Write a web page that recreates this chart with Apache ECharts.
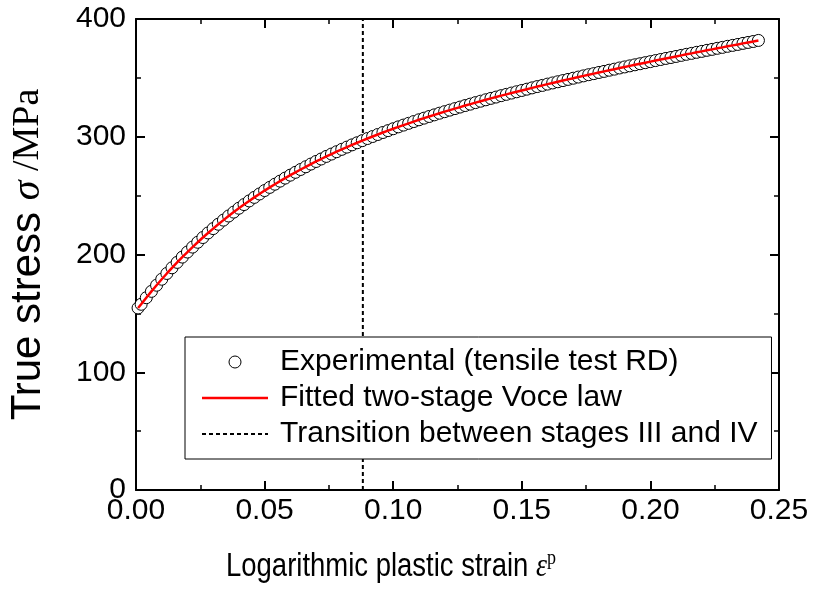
<!DOCTYPE html>
<html>
<head>
<meta charset="utf-8">
<script src="https://cdn.jsdelivr.net/npm/echarts@6/dist/echarts.min.js"></script>
<style>html,body{margin:0;padding:0;background:#fff}#c{width:813px;height:596px}</style>
</head>
<body>
<div id="c"></div>
<script>
// Logarithmic plastic strain
const strain = [0.0008,0.002,0.004,0.006,0.008,0.010,0.012,0.014,0.016,0.018,0.020,0.022,0.024,0.026,0.028,0.030,0.032,0.034,0.036,0.038,0.040,0.042,0.044,0.046,0.048,0.050,0.052,0.054,0.056,0.058,0.060,0.062,0.064,0.066,0.068,0.070,0.072,0.074,0.076,0.078,0.080,0.082,0.084,0.086,0.088,0.090,0.092,0.094,0.096,0.098,0.100,0.102,0.104,0.106,0.108,0.110,0.112,0.114,0.116,0.118,0.120,0.122,0.124,0.126,0.128,0.130,0.132,0.134,0.136,0.138,0.140,0.142,0.144,0.146,0.148,0.150,0.152,0.154,0.156,0.158,0.160,0.162,0.164,0.166,0.168,0.170,0.172,0.174,0.176,0.178,0.180,0.182,0.184,0.186,0.188,0.190,0.192,0.194,0.196,0.198,0.200,0.202,0.204,0.206,0.208,0.210,0.212,0.214,0.216,0.218,0.220,0.222,0.224,0.226,0.228,0.230,0.232,0.234,0.236,0.238,0.240,0.242];
// True stress (MPa), experimental markers
const stressExp = [154.6,157.7,163.3,168.7,173.9,179.0,183.9,188.7,193.3,197.8,202.1,206.3,210.4,214.4,218.3,222.0,225.7,229.2,232.7,236.0,239.3,242.4,245.5,248.5,251.4,254.3,257.0,259.7,262.3,264.9,267.4,269.8,272.2,274.5,276.8,279.0,281.1,283.3,285.3,287.3,289.3,291.2,293.1,294.9,296.7,298.5,300.2,301.9,303.6,305.2,306.8,308.4,309.9,311.4,312.9,314.4,315.8,317.2,318.6,320.0,321.3,322.6,323.9,325.2,326.5,327.7,329.0,330.2,331.4,332.6,333.7,334.9,336.0,337.1,338.2,339.3,340.4,341.5,342.6,343.6,344.7,345.7,346.7,347.7,348.7,349.7,350.7,351.7,352.7,353.6,354.6,355.5,356.5,357.4,358.4,359.3,360.2,361.1,362.0,362.9,363.8,364.7,365.6,366.5,367.3,368.2,369.1,370.0,370.8,371.7,372.5,373.4,374.2,375.1,375.9,376.8,377.6,378.4,379.3,380.1,380.9,381.8];
// Fitted two-stage Voce law (red curve)
const stressFit = stressExp.slice();
// Transition strain between stages III and IV
const transitionStrain = [0.0882, 0.0882];
const transitionStress = [0, 400];
const xTicks = [0, 0.25, 0.05];
const yTicks = [0, 400, 100];
const names = ['Experimental (tensile test RD)', 'Fitted two-stage Voce law', 'Transition between stages III and IV'];
const xTitle = ['Logarithmic plastic strain ', 'ε', 'p'];
const yTitle = ['True stress ', 'σ', ' /MPa'];

const chart = echarts.init(document.getElementById('c'), null, {renderer: 'canvas'});
const sans = '"Liberation Sans", Arial, sans-serif';
const serif = '"Liberation Serif", "Times New Roman", serif';
const axisCommon = {
  axisLine: {show: true, onZero: false, lineStyle: {color: '#000', width: 2}},
  axisTick: {show: true, inside: true, length: 9, lineStyle: {color: '#000', width: 2}},
  minorTick: {show: true, splitNumber: 2, length: 5, lineStyle: {color: '#000', width: 1.5}},
  splitLine: {show: false}
};
const dashPath = 'path://M0,0H4V2H0Z M7,0H11V2H7Z M14,0H18V2H14Z M21,0H25V2H21Z M28,0H32V2H28Z M35,0H39V2H35Z M42,0H46V2H42Z M49,0H53V2H49Z M56,0H60V2H56Z M63,0H66V2H63Z';
chart.setOption({
  animation: false,
  backgroundColor: '#fff',
  grid: {left: 136, right: 34, top: 19, bottom: 106, containLabel: false, outerBoundsMode: 'none'},
  legend: {
    orient: 'vertical', left: 185, top: 337,
    data: [
      {name: names[0], icon: 'circle', itemStyle: {color: '#fff', borderColor: '#000', borderWidth: 1}},
      {name: names[1], icon: 'path://M0,0H66V2.5H0Z', itemStyle: {color: '#ff0000', borderWidth: 0}},
      {name: names[2], icon: dashPath, itemStyle: {color: '#000', borderWidth: 0}}
    ],
    itemWidth: 66, itemHeight: 12, itemGap: 6,
    padding: [10, 14, 10, 17],
    borderColor: '#000', borderWidth: 1, backgroundColor: '#fff',
    textStyle: {fontFamily: sans, fontSize: 30, lineHeight: 30, color: '#000', padding: [0, 0, 0, 7]},
    selectedMode: false
  },
  graphic: [{
    type: 'text', x: 391, y: 567, scaleX: 0.82, z: 10,
    style: {
      text: '{a|' + xTitle[0] + '}{e|' + xTitle[1] + '}{p|' + xTitle[2] + '}',
      align: 'center', verticalAlign: 'middle',
      rich: {
        a: {fontFamily: sans, fontSize: 33.5, fill: '#000', lineHeight: 40},
        e: {fontFamily: serif, fontStyle: 'italic', fontSize: 34, fill: '#000', lineHeight: 40},
        p: {fontFamily: serif, fontSize: 22, fill: '#000', verticalAlign: 'top', lineHeight: 40}
      }
    }
  }],
  xAxis: [
    Object.assign({}, axisCommon, {
      type: 'value', min: xTicks[0], max: xTicks[1], interval: xTicks[2], position: 'bottom',
      axisLabel: {color: '#000', fontFamily: sans, fontSize: 30, margin: 6, formatter: v => v.toFixed(2)}
    }),
    Object.assign({}, axisCommon, {
      type: 'value', min: xTicks[0], max: xTicks[1], interval: xTicks[2], position: 'top',
      axisLabel: {show: false}
    })
  ],
  yAxis: [
    Object.assign({}, axisCommon, {
      type: 'value', min: yTicks[0], max: yTicks[1], interval: yTicks[2], position: 'left',
      axisLabel: {color: '#000', fontFamily: sans, fontSize: 30, margin: 10},
      name: '{a|' + yTitle[0] + '}{s|' + yTitle[1] + '}{m|' + yTitle[2] + '}',
      nameLocation: 'middle', nameGap: 87, nameRotate: 90,
      nameTextStyle: {rich: {
        a: {fontFamily: sans, fontSize: 42, color: '#000'},
        s: {fontFamily: serif, fontStyle: 'italic', fontSize: 40, color: '#000'},
        m: {fontFamily: serif, fontSize: 38, color: '#000'}
      }}
    }),
    Object.assign({}, axisCommon, {
      type: 'value', min: yTicks[0], max: yTicks[1], interval: yTicks[2], position: 'right',
      axisLabel: {show: false}
    })
  ],
  series: [
    {
      name: names[0], type: 'scatter',
      data: strain.map((x, i) => [x, stressExp[i]]),
      symbol: 'circle', symbolSize: 12,
      itemStyle: {color: '#fff', borderColor: '#000', borderWidth: 1, opacity: 1},
      z: 2
    },
    {
      name: names[1], type: 'line',
      data: strain.map((x, i) => [x, stressFit[i]]),
      showSymbol: false, symbol: 'none', smooth: false,
      lineStyle: {color: '#ff0000', width: 2.5},
      itemStyle: {color: '#ff0000'},
      z: 3
    },
    {
      name: names[2], type: 'line',
      data: transitionStrain.map((x, i) => [x, transitionStress[i]]),
      showSymbol: false, symbol: 'none',
      lineStyle: {color: '#000', width: 2, type: [4, 3]},
      itemStyle: {color: '#000'},
      z: 1
    }
  ]
});
</script>
</body>
</html>
